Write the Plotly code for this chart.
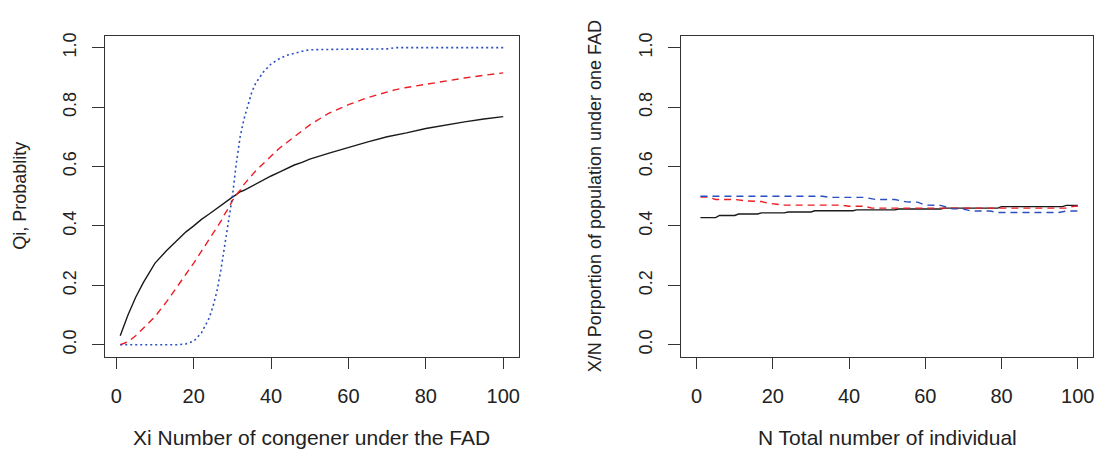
import plotly.graph_objects as go

W, H = 1101, 450

# ---------------- data: left panel ----------------
xi = [1, 3, 5, 7, 10, 13, 16, 18, 20, 22, 24, 25, 26, 27, 28, 29, 30, 31, 32, 33, 34,
      35, 36, 38, 40, 42, 44, 46, 48, 50, 55, 60, 65, 70, 72, 75, 80, 85, 90, 95, 100]
qi_black = [0.03, 0.1, 0.16, 0.21, 0.275, 0.317, 0.355, 0.38, 0.40, 0.422, 0.44, 0.45,
            0.46, 0.47, 0.48, 0.49, 0.497, 0.505, 0.515, 0.52, 0.527, 0.535, 0.54, 0.555,
            0.568, 0.58, 0.592, 0.605, 0.614, 0.625, 0.645, 0.665, 0.683, 0.70, 0.705,
            0.713, 0.728, 0.74, 0.75, 0.76, 0.768]
qi_red = [0.0, 0.01, 0.03, 0.055, 0.095, 0.145, 0.2, 0.24, 0.275, 0.315, 0.355, 0.375,
          0.395, 0.415, 0.44, 0.46, 0.485, 0.505, 0.52, 0.54, 0.555, 0.57, 0.585, 0.61,
          0.635, 0.66, 0.68, 0.70, 0.72, 0.74, 0.78, 0.808, 0.832, 0.852, 0.858, 0.866,
          0.877, 0.888, 0.898, 0.907, 0.915]
qi_blue = [0.0, 0.0, 0.0, 0.0, 0.0, 0.0, 0.0, 0.003, 0.012, 0.04, 0.09, 0.13, 0.18, 0.25,
           0.33, 0.42, 0.50, 0.61, 0.70, 0.76, 0.81, 0.85, 0.88, 0.918, 0.945, 0.962,
           0.974, 0.982, 0.988, 0.993, 0.995, 0.995, 0.995, 0.996, 1.0, 1.0, 1.0, 1.0,
           1.0, 1.0, 1.0]

# ---------------- data: right panel ----------------
n_black = [1, 5, 6, 10, 11, 16, 17, 23, 24, 30, 31, 41, 42, 52, 53, 64, 65, 79, 80, 96, 97, 100]
p_black = [0.428, 0.428, 0.435, 0.435, 0.44, 0.44, 0.444, 0.444, 0.447, 0.447, 0.451, 0.451,
           0.454, 0.454, 0.457, 0.457, 0.46, 0.46, 0.465, 0.465, 0.469, 0.469]
n_blue = [1, 33, 35, 44, 47, 52, 55, 58, 60, 64, 67, 70, 72, 77, 79, 95, 97, 100]
p_blue = [0.50, 0.50, 0.496, 0.496, 0.489, 0.489, 0.481, 0.48, 0.47, 0.469, 0.458, 0.457,
          0.45, 0.45, 0.445, 0.445, 0.45, 0.45]
n_red = [1, 3, 5, 10, 13, 17, 19, 21, 23, 38, 40, 44, 46, 97, 99, 100]
p_red = [0.497, 0.497, 0.489, 0.489, 0.484, 0.482, 0.476, 0.474, 0.47, 0.47, 0.466, 0.466,
         0.46, 0.46, 0.466, 0.466]

x_ticks = [0, 20, 40, 60, 80, 100]
y_ticks = [0.0, 0.2, 0.4, 0.6, 0.8, 1.0]
y_ticktext = ["0.0", "0.2", "0.4", "0.6", "0.8", "1.0"]

BLACK = "#1a1a1a"
RED = "#ee1c25"
BLUE = "#2b4fc0"
AX = "#333333"
FONT = "Liberation Sans, Arial, sans-serif"

fig = go.Figure()
fig.add_trace(go.Scatter(x=xi, y=qi_black, mode="lines", line=dict(color=BLACK, width=1.4),
                         xaxis="x", yaxis="y", showlegend=False))
fig.add_trace(go.Scatter(x=xi, y=qi_red, mode="lines",
                         line=dict(color=RED, width=1.4, dash="7px,5px"),
                         xaxis="x", yaxis="y", showlegend=False))
fig.add_trace(go.Scatter(x=xi, y=qi_blue, mode="lines",
                         line=dict(color=BLUE, width=1.6, dash="2px,3px"),
                         xaxis="x", yaxis="y", showlegend=False))

fig.add_trace(go.Scatter(x=n_black, y=p_black, mode="lines", line=dict(color=BLACK, width=1.4),
                         xaxis="x2", yaxis="y2", showlegend=False))
fig.add_trace(go.Scatter(x=n_red, y=p_red, mode="lines",
                         line=dict(color=RED, width=1.4, dash="7px,5px"),
                         xaxis="x2", yaxis="y2", showlegend=False))
fig.add_trace(go.Scatter(x=n_blue, y=p_blue, mode="lines",
                         line=dict(color=BLUE, width=1.4, dash="7px,5px"),
                         xaxis="x2", yaxis="y2", showlegend=False))

top, bottom = 33, 356
ydom = [1 - bottom / H, 1 - top / H]


def xax(domain, rng):
    return dict(domain=domain, range=rng, tickvals=x_ticks, ticks="outside", ticklen=11,
                tickwidth=1.3, tickcolor=AX, showline=True, mirror=True, linecolor=AX,
                linewidth=1.3, showgrid=False, zeroline=False, ticklabelstandoff=10,
                tickfont=dict(family=FONT, size=20, color="#222222"), fixedrange=True)


def yax(anchor):
    return dict(domain=ydom, range=[-0.04, 1.04], tickvals=y_ticks, ticktext=y_ticktext,
                tickangle=-90, ticks="outside", ticklen=12, tickwidth=1.3, tickcolor=AX,
                showline=True, mirror=True, linecolor=AX, linewidth=1.3, showgrid=False,
                zeroline=False, anchor=anchor, ticklabelstandoff=9,
                tickfont=dict(family=FONT, size=18, color="#222222"), fixedrange=True)


lx = [105 / W, 519 / W]
rx = [682 / W, 1094 / W]

fig.update_layout(
    width=W, height=H, margin=dict(l=0, r=0, t=0, b=0),
    paper_bgcolor="white", plot_bgcolor="white",
    xaxis=xax(lx, [-2.96, 103.96]) | dict(anchor="y"),
    yaxis=yax("x"),
    xaxis2=xax(rx, [-4, 104]) | dict(anchor="y2"),
    yaxis2=yax("x2"),
    annotations=[
        dict(text="Xi Number of congener under the FAD", x=(105 + 519) / 2 / W, y=1 - 437 / H,
             xref="paper", yref="paper", showarrow=False, xanchor="center", yanchor="middle",
             font=dict(family=FONT, size=21, color="#222222")),
        dict(text="N Total number of individual", x=(682 + 1094) / 2 / W, y=1 - 437 / H,
             xref="paper", yref="paper", showarrow=False, xanchor="center", yanchor="middle",
             font=dict(family=FONT, size=21, color="#222222")),
        dict(text="Qi, Probablity", x=20 / W, y=1 - 194 / H, textangle=-90,
             xref="paper", yref="paper", showarrow=False, xanchor="center", yanchor="middle",
             font=dict(family=FONT, size=18, color="#222222")),
        dict(text="X/N Porportion of population under one FAD", x=595 / W, y=1 - 194 / H,
             textangle=-90, xref="paper", yref="paper", showarrow=False, xanchor="center",
             yanchor="middle", font=dict(family=FONT, size=18, color="#222222")),
    ],
)

fig.write_html("out.html")
